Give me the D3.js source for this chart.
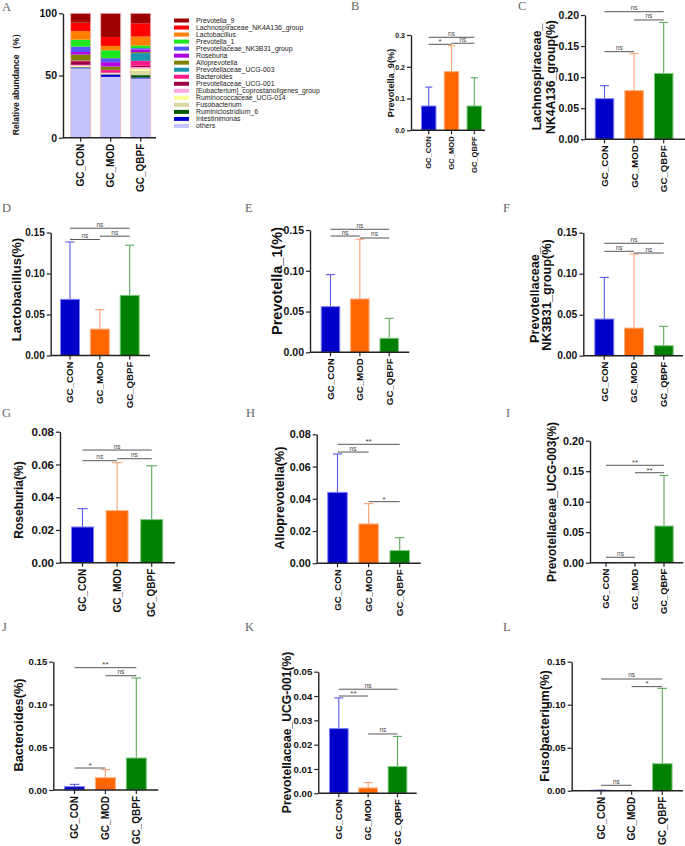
<!DOCTYPE html>
<html><head><meta charset="utf-8">
<script src="https://cdn.jsdelivr.net/npm/d3@7"></script>
<style>body{margin:0;background:#fff} svg{display:block}</style>
</head><body>
<svg id="chart" width="685" height="846"></svg>
<script>
// ---------- DATA ----------
const groups = ["GC_CON", "GC_MOD", "GC_QBPF"];

// Panel A: relative abundance (%) in legend order (top of stack first)
const stackGenera = ["Prevotella_9", "Lachnospiraceae_NK4A136_group", "Lactobacillus", "Prevotella_1",
  "Prevotellaceae_NK3B31_group", "Roseburia", "Alloprevotella", "Prevotellaceae_UCG-003", "Bacteroides",
  "Prevotellaceae_UCG-001", "[Eubacterium]_coprostanoligenes_group", "Ruminococcaceae_UCG-014",
  "Fusobacterium", "Ruminiclostridium_6", "Intestinimonas", "others"];
const stackCON  = [7.5, 6.7, 7.0, 5.6, 4.3, 2.1, 4.8, 0.1, 0.4, 2.9, 1.0, 0.8, 0.1, 0.3, 0.6, 55.8];
const stackMOD  = [19.0, 7.2, 3.5, 6.4, 3.2, 3.5, 2.7, 0.1, 1.9, 0.4, 0.5, 0.5, 0.1, 0.3, 1.8, 48.9];
const stackQBPF = [8.0, 10.7, 7.2, 2.1, 1.1, 2.1, 0.8, 6.2, 4.0, 1.1, 1.3, 1.6, 3.5, 1.9, 0.8, 47.6];
const stackTicks = [0, 50, 100];

// Panels B-L: mean and SD (fraction), significance brackets [from, to, level, label]
const prevotella9Mean = [0.0765, 0.1845, 0.0765];
const prevotella9SD   = [0.0595, 0.0815, 0.0890];
const prevotella9Sig  = [[0, 2, 0.2928, "ns"], [0, 1, 0.2707, "*"], [1, 2, 0.2740, "ns"]];

const lachnoMean = [0.0654, 0.0783, 0.1060];
const lachnoSD   = [0.0209, 0.0597, 0.0820];
const lachnoSig  = [[0, 2, 0.2053, "ns"], [1, 2, 0.1920, "ns"], [0, 1, 0.1410, "ns"]];

const lactoMean = [0.0685, 0.0322, 0.0733];
const lactoSD   = [0.0700, 0.0238, 0.0612];
const lactoSig  = [[0, 2, 0.1552, "ns"], [0, 1, 0.1415, "ns"], [1, 2, 0.1455, "ns"]];

const prevotella1Mean = [0.0560, 0.0654, 0.0172];
const prevotella1SD   = [0.0393, 0.0732, 0.0245];
const prevotella1Sig  = [[0, 2, 0.1509, "ns"], [0, 1, 0.1426, "ns"], [1, 2, 0.1402, "ns"]];

const nk3b31Mean = [0.0447, 0.0337, 0.0122];
const nk3b31SD   = [0.0508, 0.0903, 0.0236];
const nk3b31Sig  = [[0, 2, 0.1371, "ns"], [0, 1, 0.1273, "ns"], [1, 2, 0.1252, "ns"]];

const roseburiaMean = [0.0218, 0.0318, 0.0263];
const roseburiaSD   = [0.0112, 0.0293, 0.0329];
const roseburiaSig  = [[0, 2, 0.0688, "ns"], [0, 1, 0.0623, "ns"], [1, 2, 0.0635, "ns"]];

const alloMean = [0.0440, 0.0244, 0.0079];
const alloSD   = [0.0238, 0.0126, 0.0080];
const alloSig  = [[0, 2, 0.0738, "**"], [0, 1, 0.0690, "ns"], [1, 2, 0.0382, "*"]];

const ucg003Mean = [0.0003, 0.0002, 0.0601];
const ucg003SD   = [0.0001, 0.0001, 0.0829];
const ucg003Sig  = [[0, 2, 0.1597, "**"], [1, 2, 0.1475, "**"], [0, 1, 0.0089, "ns"]];

const bacteroidesMean = [0.0039, 0.0144, 0.0374];
const bacteroidesSD   = [0.0027, 0.0094, 0.0936];
const bacteroidesSig  = [[0, 2, 0.1430, "**"], [1, 2, 0.1336, "ns"], [0, 1, 0.0257, "*"]];

const ucg001Mean = [0.0266, 0.0022, 0.0110];
const ucg001SD   = [0.0126, 0.0022, 0.0124];
const ucg001Sig  = [[0, 2, 0.0428, "ns"], [0, 1, 0.0400, "**"], [1, 2, 0.0244, "ns"]];

const fusoMean = [0.0005, 0.0002, 0.0314];
const fusoSD   = [0.0001, 0.0001, 0.0876];
const fusoSig  = [[0, 2, 0.1299, "ns"], [1, 2, 0.1210, "*"], [0, 1, 0.0063, "ns"]];

// ---------- STYLE ----------
const stackColors = ["#9c0000", "#ff0000", "#ff8000", "#1ee81e", "#5555ff", "#b000e0", "#808000", "#1a94b0",
  "#ff1a8c", "#a0004a", "#ffa8e4", "#ffff99", "#d8d8a0", "#005a00", "#0000cc", "#c4c4ff"];
const barFill   = ["#0000c8", "#ff6600", "#008000"];
const barStroke = ["#8080ff", "#ffb080", "#80c880"];
const errColor  = ["#5a5ae6", "#ffa070", "#5aaa5a"];
const SANS = "'Liberation Sans', Arial, sans-serif";
const SERIF = "'Liberation Serif', 'Times New Roman', serif";

const svg = d3.select("#chart");

function letter(t, x, y) {
  svg.append("text").attr("x", x).attr("y", y).text(t)
    .attr("font-family", SERIF).attr("font-size", 12.5).attr("fill", "#666");
}

function xAxis(p, x, y0) {
  const g = svg.append("g");
  g.append("line").attr("x1", p.ax).attr("x2", p.end).attr("y1", y0).attr("y2", y0)
    .attr("stroke", "#222").attr("stroke-width", 1.4);
  groups.forEach(gr => {
    const cx = x(gr) + x.bandwidth() / 2;
    g.append("line").attr("x1", cx).attr("x2", cx).attr("y1", y0).attr("y2", y0 + 4)
      .attr("stroke", "#222").attr("stroke-width", 1.2);
    g.append("text").attr("transform", `translate(${cx},${y0 + 6}) rotate(-90)`)
      .attr("text-anchor", "end").attr("dy", "0.35em").text(gr)
      .attr("font-family", SANS).attr("font-weight", "bold").attr("font-size", p.xfs).attr("fill", "#111");
  });
}

function yAxis(p, y, ticks, fmt) {
  const g = svg.append("g").attr("transform", `translate(${p.ax},0)`)
    .call(d3.axisLeft(y).tickValues(ticks).tickFormat(fmt).tickSize(4).tickSizeOuter(0));
  g.select(".domain").attr("stroke", "#222").attr("stroke-width", 1.4);
  g.selectAll(".tick line").attr("stroke", "#222").attr("stroke-width", 1.2);
  g.selectAll(".tick text").attr("font-family", SANS).attr("font-weight", "bold")
    .attr("font-size", p.tfs).attr("fill", "#111").attr("x", -6);
}

function yLabel(lines, xs, cy, fs) {
  lines.forEach((l, i) => {
    svg.append("text").attr("transform", `translate(${xs[i]},${cy}) rotate(-90)`)
      .attr("text-anchor", "middle").attr("dy", "0.35em").text(l)
      .attr("font-family", SANS).attr("font-weight", "bold").attr("font-size", fs).attr("fill", "#111");
  });
}

function bandScale(p) {
  const s = (p.centers[2] - p.centers[0]) / 2;
  const pi = 1 - p.bw / s;
  return d3.scaleBand().domain(groups).range([p.centers[0] - s / 2, p.centers[2] + s / 2])
    .paddingInner(pi).paddingOuter(pi / 2);
}

// ---------- PANEL A ----------
(function () {
  const p = {ax: 63, zero: 137.7, top: 13.3, centers: [80.7, 110.7, 140.7], bw: 20, end: 156, tfs: 10.5, xfs: 10};
  const y = d3.scaleLinear().domain([0, 100]).range([p.zero, p.top]);
  const x = bandScale(p);
  const cols = [stackCON, stackMOD, stackQBPF];
  groups.forEach((gr, gi) => {
    const vals = cols[gi];
    let base = 0;
    for (let k = vals.length - 1; k >= 0; k--) {
      const v = vals[k];
      svg.append("rect").attr("x", x(gr)).attr("width", x.bandwidth())
        .attr("y", y(base + v)).attr("height", y(base) - y(base + v)).attr("fill", stackColors[k]);
      base += v;
    }
    svg.append("rect").attr("x", x(gr)).attr("width", x.bandwidth())
      .attr("y", y(base)).attr("height", y(0) - y(base))
      .attr("fill", "none").attr("stroke", "#f0b4b4").attr("stroke-width", 0.8);
  });
  yAxis(p, y, stackTicks, d3.format("d"));
  xAxis(p, x, p.zero);
  yLabel(["Relative abundance（%）"], [16], 82, 8.6);
  // legend
  stackGenera.forEach((name, i) => {
    const cy = 20.5 + i * 7.03;
    svg.append("rect").attr("x", 174).attr("y", cy - 2).attr("width", 15).attr("height", 4).attr("fill", stackColors[i]);
    svg.append("text").attr("x", 196).attr("y", cy + 2.5).text(name)
      .attr("font-family", SANS).attr("font-size", 6.9).attr("fill", "#222");
  });
  letter("A", 2, 11);
})();

// ---------- PANELS B-L ----------
const panels = [
  {L: "B", lx: 351, ly: 10, mean: prevotella9Mean, sd: prevotella9SD, sig: prevotella9Sig, max: 0.3, step: 0.1, fmt: ".1f",
   ax: 411, zero: 130.3, top: 35, centers: [428.7, 451.3, 474.3], bw: 15.5, end: 485, tfs: 7, xfs: 7.6,
   label: ["Prevotella_9(%)"], labX: [391], labY: 83, lfs: 9.2},
  {L: "C", lx: 518, ly: 10, mean: lachnoMean, sd: lachnoSD, sig: lachnoSig, max: 0.2, step: 0.05, fmt: ".2f",
   ax: 585, zero: 139.3, top: 15, centers: [604.5, 633.7, 663.7], bw: 19.5, end: 685, tfs: 10.5, xfs: 9.7,
   label: ["Lachnospiraceae_", "NK4A136_group(%)"], labX: [537, 551], labY: 77, lfs: 12.2},
  {L: "D", lx: 2, ly: 212, mean: lactoMean, sd: lactoSD, sig: lactoSig, max: 0.15, step: 0.05, fmt: ".2f",
   ax: 50.7, zero: 355.5, top: 232.5, centers: [70, 100, 129.7], bw: 20, end: 150, tfs: 10, xfs: 9.7,
   label: ["Lactobacillus(%)"], labX: [16], labY: 289.5, lfs: 13},
  {L: "E", lx: 245, ly: 212, mean: prevotella1Mean, sd: prevotella1SD, sig: prevotella1Sig, max: 0.15, step: 0.05, fmt: ".2f",
   ax: 310, zero: 352.3, top: 230, centers: [330.5, 359.7, 389.2], bw: 19.5, end: 409.3, tfs: 10.5, xfs: 9.7,
   label: ["Prevotella_1(%)"], labX: [277], labY: 281, lfs: 14.5},
  {L: "F", lx: 503, ly: 212, mean: nk3b31Mean, sd: nk3b31SD, sig: nk3b31Sig, max: 0.15, step: 0.05, fmt: ".2f",
   ax: 583.3, zero: 355.7, top: 232.7, centers: [604.3, 634, 663.7], bw: 20, end: 683, tfs: 10.3, xfs: 9.4,
   label: ["Prevotellaceae_", "NK3B31_group(%)"], labX: [535, 547], labY: 295, lfs: 12.7},
  {L: "G", lx: 2, ly: 417, mean: roseburiaMean, sd: roseburiaSD, sig: roseburiaSig, max: 0.08, step: 0.02, fmt: ".2f",
   ax: 60, zero: 562.7, top: 431.7, centers: [82.5, 116.8, 151.7], bw: 23, end: 175, tfs: 11.5, xfs: 10,
   label: ["Roseburia(%)"], labX: [19], labY: 500, lfs: 12},
  {L: "H", lx: 246, ly: 417, mean: alloMean, sd: alloSD, sig: alloSig, max: 0.08, step: 0.02, fmt: ".2f",
   ax: 316.7, zero: 563.3, top: 434.3, centers: [337.5, 368.5, 399.7], bw: 20.5, end: 420.7, tfs: 10.8, xfs: 9.7,
   label: ["Alloprevotella(%)"], labX: [280], labY: 498, lfs: 12.6},
  {L: "I", lx: 506, ly: 417, mean: ucg003Mean, sd: ucg003SD, sig: ucg003Sig, max: 0.2, step: 0.05, fmt: ".2f",
   ax: 590, zero: 562.7, top: 440.7, centers: [606, 635, 664], bw: 19.5, end: 683.3, tfs: 10.8, xfs: 9.4,
   label: ["Prevotellaceae_UCG-003(%)"], labX: [552], labY: 502, lfs: 12},
  {L: "J", lx: 2, ly: 631, mean: bacteroidesMean, sd: bacteroidesSD, sig: bacteroidesSig, max: 0.15, step: 0.05, fmt: ".2f",
   ax: 53.3, zero: 790, top: 661.7, centers: [74.5, 105.5, 136.3], bw: 21, end: 158.3, tfs: 9.6, xfs: 10,
   label: ["Bacteroides(%)"], labX: [18.3], labY: 725, lfs: 12.8},
  {L: "K", lx: 245, ly: 631, mean: ucg001Mean, sd: ucg001SD, sig: ucg001Sig, max: 0.05, step: 0.01, fmt: ".2f",
   ax: 318.3, zero: 793.3, top: 671.7, centers: [338.8, 368.2, 397.5], bw: 19.7, end: 416.7, tfs: 9.6, xfs: 9.4,
   label: ["Prevotellaceae_UCG-001(%)"], labX: [287], labY: 732.5, lfs: 12.1},
  {L: "L", lx: 503, ly: 631, mean: fusoMean, sd: fusoSD, sig: fusoSig, max: 0.15, step: 0.05, fmt: ".2f",
   ax: 571.7, zero: 790.7, top: 661.7, centers: [601, 631, 662.3], bw: 20.5, end: 683, tfs: 9.6, xfs: 10,
   label: ["Fusobacterium(%)"], labX: [545], labY: 726, lfs: 12.8}
];

panels.forEach(p => {
  const y = d3.scaleLinear().domain([0, p.max]).range([p.zero, p.top]);
  const x = bandScale(p);
  const ticks = d3.range(0, p.max + p.step / 2, p.step);
  // bars
  groups.forEach((gr, i) => {
    const m = p.mean[i], s = p.sd[i];
    const cx = x(gr) + x.bandwidth() / 2;
    const cap = x.bandwidth() * 0.46;
    svg.append("line").attr("x1", cx).attr("x2", cx).attr("y1", y(m)).attr("y2", y(m + s))
      .attr("stroke", errColor[i]).attr("stroke-width", 1.1);
    svg.append("line").attr("x1", cx - cap / 2).attr("x2", cx + cap / 2).attr("y1", y(m + s)).attr("y2", y(m + s))
      .attr("stroke", errColor[i]).attr("stroke-width", 1.1);
    svg.append("rect").attr("x", x(gr) + 0.5).attr("width", x.bandwidth() - 1)
      .attr("y", y(m)).attr("height", y(0) - y(m))
      .attr("fill", barFill[i]).attr("stroke", barStroke[i]).attr("stroke-width", 1);
  });
  // significance brackets
  p.sig.forEach(([a, b, v, lab]) => {
    const xa = x(groups[a]) + x.bandwidth() / 2, xb = x(groups[b]) + x.bandwidth() / 2;
    svg.append("line").attr("x1", xa).attr("x2", xb).attr("y1", y(v)).attr("y2", y(v))
      .attr("stroke", "#555").attr("stroke-width", 1);
    svg.append("text").attr("x", (xa + xb) / 2).attr("y", y(v) - (lab === "ns" ? 1.5 : 0.2))
      .attr("text-anchor", "middle").text(lab)
      .attr("font-family", SANS).attr("font-size", lab === "ns" ? 6.5 : 8).attr("fill", "#444");
  });
  yAxis(p, y, ticks, d3.format(p.fmt));
  xAxis(p, x, p.zero);
  yLabel(p.label, p.labX, p.labY, p.lfs);
  letter(p.L, p.lx, p.ly);
});
</script>
</body></html>
